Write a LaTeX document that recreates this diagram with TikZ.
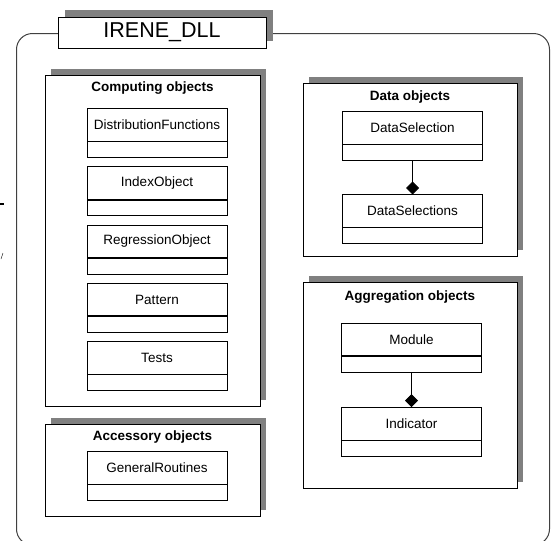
\documentclass[tikz,border=0pt]{standalone}
\usepackage{fontspec}
\setmainfont{Liberation Sans}
\usetikzlibrary{positioning,shadows,arrows.meta}
\definecolor{ShadowGray}{RGB}{128,128,128}
\definecolor{FrameGray}{RGB}{64,64,64}
\tikzset{
    dllbox/.style={draw=black, fill=white, line width=0.9pt, minimum width=208pt, minimum height=31pt, inner sep=0pt, font=\fontsize{21.5}{24}\selectfont, drop shadow={shadow xshift=7pt, shadow yshift=7pt, fill=ShadowGray, opacity=1}},
    pkgbox/.style={draw=black, fill=white, line width=0.9pt, drop shadow={shadow xshift=6pt, shadow yshift=6pt, fill=ShadowGray, opacity=1}},
    pkgtitle/.style={inner sep=0pt, font=\bfseries\fontsize{13.5}{15}\selectfont},
    classname/.style={draw=black, fill=white, line width=0.8pt, minimum width=140pt, minimum height=33pt, inner sep=0pt, outer sep=0pt, font=\fontsize{13.5}{15}\selectfont},
    classattr/.style={draw=black, fill=white, line width=0.8pt, minimum width=140pt, minimum height=16pt, inner sep=0pt, outer sep=0pt},
    divider/.style={draw=black, line width=1.8pt},
    composition/.style={draw=black, line width=0.8pt, -{Diamond[length=13pt, width=13pt]}}
}
\begin{document}
\begin{tikzpicture}[x=1pt, y=-1pt]
    \useasboundingbox (0,0) rectangle (555,541);
    \clip (0,0) rectangle (555,541);

    % outer frame of the component
    \draw[draw=FrameGray, line width=1pt, rounded corners=16pt] (16.5,33.5) rectangle (549.5,545);
    \node[dllbox] (dll) at (162,32.5) {IRENE\_DLL};

    % left margin marks
    \draw[line width=1.5pt] (0,204) -- (4,204);
    \draw (1,259) -- (3,253);

    % Computing objects
    \node[pkgbox, minimum width=215pt, minimum height=331pt] (comp) at (152.5,240.5) {};
    \node[pkgtitle] (comptitle) at ([yshift=-13pt]comp.north) {Computing objects};
    \node[classname] (distf) at (157,125) {DistributionFunctions};
    \node[classattr, below=0pt of distf] (distfa) {};
    \node[classname, below=9.25pt of distfa] (idxo) {IndexObject};
    \node[classattr, below=0pt of idxo] (idxoa) {};
    \node[classname, below=9.25pt of idxoa] (rego) {RegressionObject};
    \node[classattr, below=0pt of rego] (regoa) {};
    \node[classname, below=9.25pt of regoa] (patt) {Pattern};
    \node[classattr, below=0pt of patt] (patta) {};
    \node[classname, below=9.25pt of patta] (tests) {Tests};
    \node[classattr, below=0pt of tests] (testsa) {};
    \draw[divider] (distf.south west) -- (distf.south east);
    \draw[divider] (idxo.south west) -- (idxo.south east);
    \draw[divider] (rego.south west) -- (rego.south east);
    \draw[divider] (patt.south west) -- (patt.south east);
    \draw[divider] (tests.south west) -- (tests.south east);

    % Accessory objects
    \node[pkgbox, minimum width=215pt, minimum height=92pt] (acc) at (152.5,470) {};
    \node[pkgtitle] (acctitle) at ([yshift=-13pt]acc.north) {Accessory objects};
    \node[classname] (genr) at (157,468) {GeneralRoutines};
    \node[classattr, below=0pt of genr] (genra) {};
    \draw[divider] (genr.south west) -- (genr.south east);

    % Data objects
    \node[pkgbox, minimum width=214pt, minimum height=173pt] (data) at (410,169.5) {};
    \node[pkgtitle] (datatitle) at ([yshift=-14pt]data.north) {Data objects};
    \node[classname] (dsel) at (412.5,128) {DataSelection};
    \node[classattr, below=0pt of dsel] (dsela) {};
    \node[classname, below=34pt of dsela] (dsels) {DataSelections};
    \node[classattr, below=0pt of dsels] (dselsa) {};
    \draw[divider] (dsel.south west) -- (dsel.south east);
    \draw[divider] (dsels.south west) -- (dsels.south east);
    \draw[composition] (dsela.south) -- (dsels.north);

    % Aggregation objects
    \node[pkgbox, minimum width=214pt, minimum height=206pt] (aggr) at (410,385) {};
    \node[pkgtitle] (aggrtitle) at ([yshift=-15pt]aggr.north) {Aggregation objects};
    \node[classname] (modl) at (411.5,339.5) {Module};
    \node[classattr, below=0pt of modl] (modla) {};
    \node[classname, below=35pt of modla] (indic) {Indicator};
    \node[classattr, below=0pt of indic] (indica) {};
    \draw[divider] (modl.south west) -- (modl.south east);
    \draw[composition] (modla.south) -- (indic.north);
\end{tikzpicture}
\end{document}
